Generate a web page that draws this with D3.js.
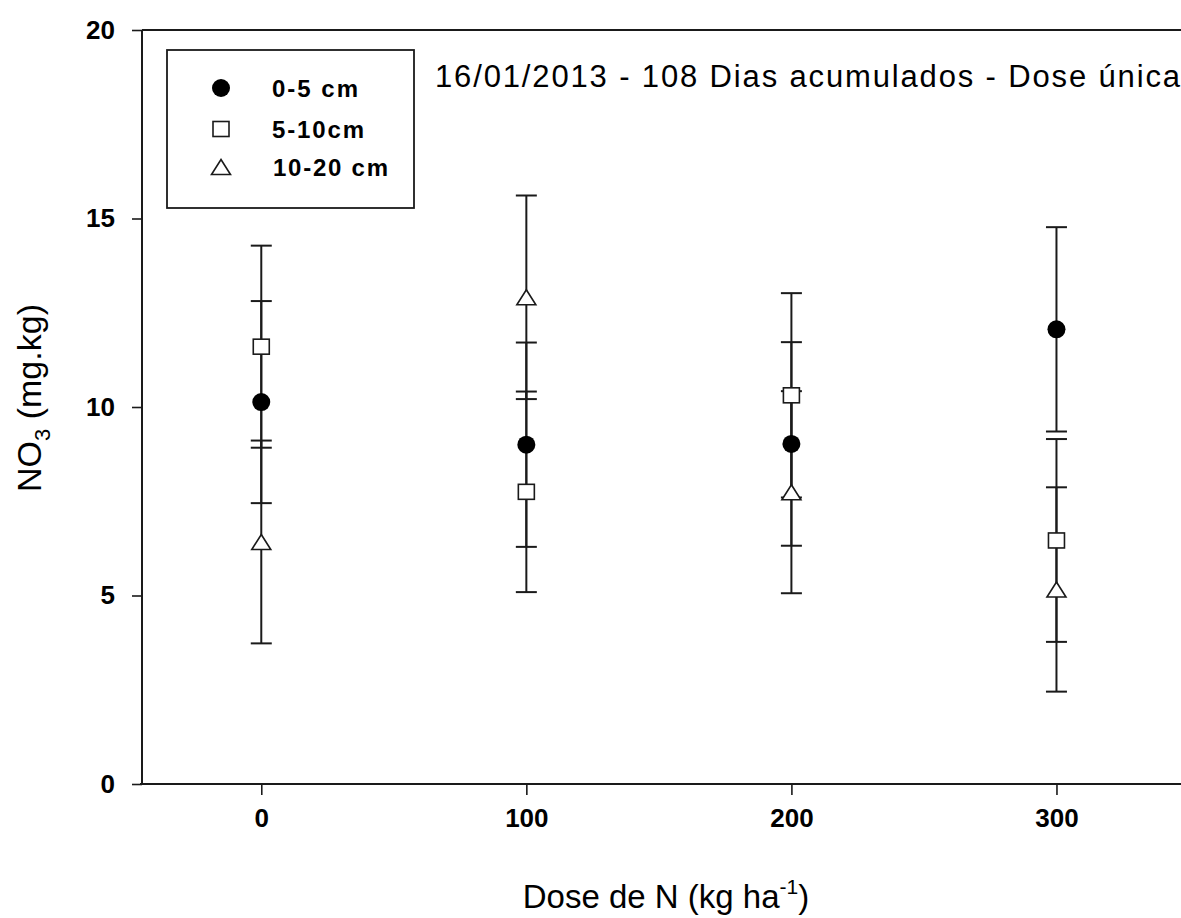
<!DOCTYPE html>
<html>
<head>
<meta charset="utf-8">
<script src="https://cdn.jsdelivr.net/npm/d3@7"></script>
<style>
  html, body { margin: 0; padding: 0; background: #fff; }
  svg { display: block; font-family: "Liberation Sans", Arial, sans-serif; }
</style>
</head>
<body>
<svg id="chart" width="1181" height="918"></svg>
<script>
// Nitrate (NO3) by N dose at three soil depths, mean ± standard error
const doses = [0, 100, 200, 300];
const depths = ["0-5 cm", "5-10cm", "10-20 cm"];
const mean0to5 = [10.13, 9.00, 9.02, 12.06];
const se0to5 = [2.68, 2.71, 2.70, 2.71];
const mean5to10 = [11.60, 7.75, 10.31, 6.46];
const se5to10 = [2.68, 2.66, 2.71, 2.69];
const mean10to20 = [6.42, 12.91, 7.74, 5.16];
const se10to20 = [2.69, 2.70, 2.68, 2.71];
const xTicks = [0, 100, 200, 300];
const yTicks = [0, 5, 10, 15, 20];
const titleText = "16/01/2013 - 108 Dias acumulados - Dose única";

const series = [
  { name: depths[0], shape: "circle", means: mean0to5, ses: se0to5 },
  { name: depths[1], shape: "square", means: mean5to10, ses: se5to10 },
  { name: depths[2], shape: "triangle", means: mean10to20, ses: se10to20 }
];

const svg = d3.select("#chart");
const ink = "#1a1a1a";

const x = d3.scaleLinear().domain([-45, 350]).range([142, 1189]);
const y = d3.scaleLinear().domain([0, 20]).range([784, 30]);

// frame: top border runs off to the right
svg.append("line")
  .attr("x1", 142).attr("x2", 1181)
  .attr("y1", y(20)).attr("y2", y(20))
  .attr("stroke", ink).attr("stroke-width", 2);

// y axis
const yAxis = svg.append("g")
  .attr("transform", "translate(142,0)")
  .call(d3.axisLeft(y).tickValues(yTicks).tickSize(10).tickPadding(17).tickFormat(d3.format("d")));
yAxis.select(".domain").attr("stroke", ink).attr("stroke-width", 2).attr("d", `M0,${y(0)}V${y(20)}`);
yAxis.selectAll(".tick line").attr("stroke", ink).attr("stroke-width", 1.6);
yAxis.selectAll(".tick text")
  .attr("fill", "#000").attr("font-size", 26).attr("font-weight", "bold")
  .attr("font-family", "'Liberation Sans', Arial, sans-serif");

// x axis
const xAxis = svg.append("g")
  .attr("transform", `translate(0,${y(0)})`)
  .call(d3.axisBottom(x).tickValues(xTicks).tickSize(11).tickPadding(14).tickFormat(d3.format("d")));
xAxis.select(".domain").attr("stroke", ink).attr("stroke-width", 2).attr("d", `M140,0H1181`);
xAxis.selectAll(".tick line").attr("stroke", ink).attr("stroke-width", 1.6);
xAxis.selectAll(".tick text")
  .attr("fill", "#000").attr("font-size", 26).attr("font-weight", "bold")
  .attr("font-family", "'Liberation Sans', Arial, sans-serif");

// error bars
const capHalf = 10.5;
const bars = [];
series.forEach(s => doses.forEach((d, i) => bars.push({ dose: d, m: s.means[i], se: s.ses[i] })));
const eb = svg.append("g").attr("stroke", ink).attr("stroke-width", 2).attr("fill", "none");
bars.forEach(b => {
  const cx = x(b.dose);
  const yHi = y(b.m + b.se), yLo = y(b.m - b.se);
  eb.append("line").attr("x1", cx).attr("x2", cx).attr("y1", yHi).attr("y2", yLo);
  eb.append("line").attr("x1", cx - capHalf).attr("x2", cx + capHalf).attr("y1", yHi).attr("y2", yHi);
  eb.append("line").attr("x1", cx - capHalf).attr("x2", cx + capHalf).attr("y1", yLo).attr("y2", yLo);
});

// marker drawing
function drawMarker(g, shape, cx, cy) {
  if (shape === "circle") {
    g.append("circle").attr("cx", cx).attr("cy", cy).attr("r", 9)
      .attr("fill", "#000").attr("stroke", "none");
  } else if (shape === "square") {
    g.append("rect").attr("x", cx - 8).attr("y", cy - 7.5).attr("width", 16).attr("height", 15)
      .attr("fill", "#fff").attr("stroke", ink).attr("stroke-width", 1.6);
  } else {
    const h = 15, w = 19;
    g.append("path")
      .attr("d", `M${cx},${cy - h / 2}L${cx + w / 2},${cy + h / 2}L${cx - w / 2},${cy + h / 2}Z`)
      .attr("fill", "#fff").attr("stroke", ink).attr("stroke-width", 1.6);
  }
}

const pts = svg.append("g");
series.forEach(s => {
  doses.forEach((d, i) => drawMarker(pts, s.shape, x(d), y(s.means[i])));
});

// legend
const lg = svg.append("g");
lg.append("rect").attr("x", 167).attr("y", 50).attr("width", 247).attr("height", 158)
  .attr("fill", "#fff").attr("stroke", ink).attr("stroke-width", 1.8);
const legendRows = [88, 129, 167];
const legendWidths = [86, 92, 115];
series.forEach((s, i) => {
  drawMarker(lg, s.shape, 221, legendRows[i]);
  lg.append("text")
    .attr("x", i === 2 ? 273 : 272).attr("y", legendRows[i] + 9)
    .attr("font-size", 24).attr("font-weight", "bold").attr("fill", "#000")
    .attr("textLength", legendWidths[i]).attr("lengthAdjust", "spacing")
    .text(s.name);
});

// chart title
svg.append("text")
  .attr("x", 435).attr("y", 87)
  .attr("font-size", 31).attr("fill", "#000")
  .attr("textLength", 745).attr("lengthAdjust", "spacing")
  .text(titleText);

// axis titles
const xt = svg.append("text")
  .attr("x", 666).attr("y", 908)
  .attr("text-anchor", "middle")
  .attr("font-size", 33).attr("fill", "#000");
xt.append("tspan").text("Dose de N (kg ha");
xt.append("tspan").attr("font-size", 21).attr("dy", -14).text("-1");
xt.append("tspan").attr("dy", 14).text(")");

const yt = svg.append("text")
  .attr("transform", "translate(41,398) rotate(-90)")
  .attr("text-anchor", "middle")
  .attr("font-size", 34).attr("fill", "#000");
yt.append("tspan").text("NO");
yt.append("tspan").attr("font-size", 22).attr("dy", 9).text("3");
yt.append("tspan").attr("dy", -9).text(" (mg.kg)");
</script>
</body>
</html>
